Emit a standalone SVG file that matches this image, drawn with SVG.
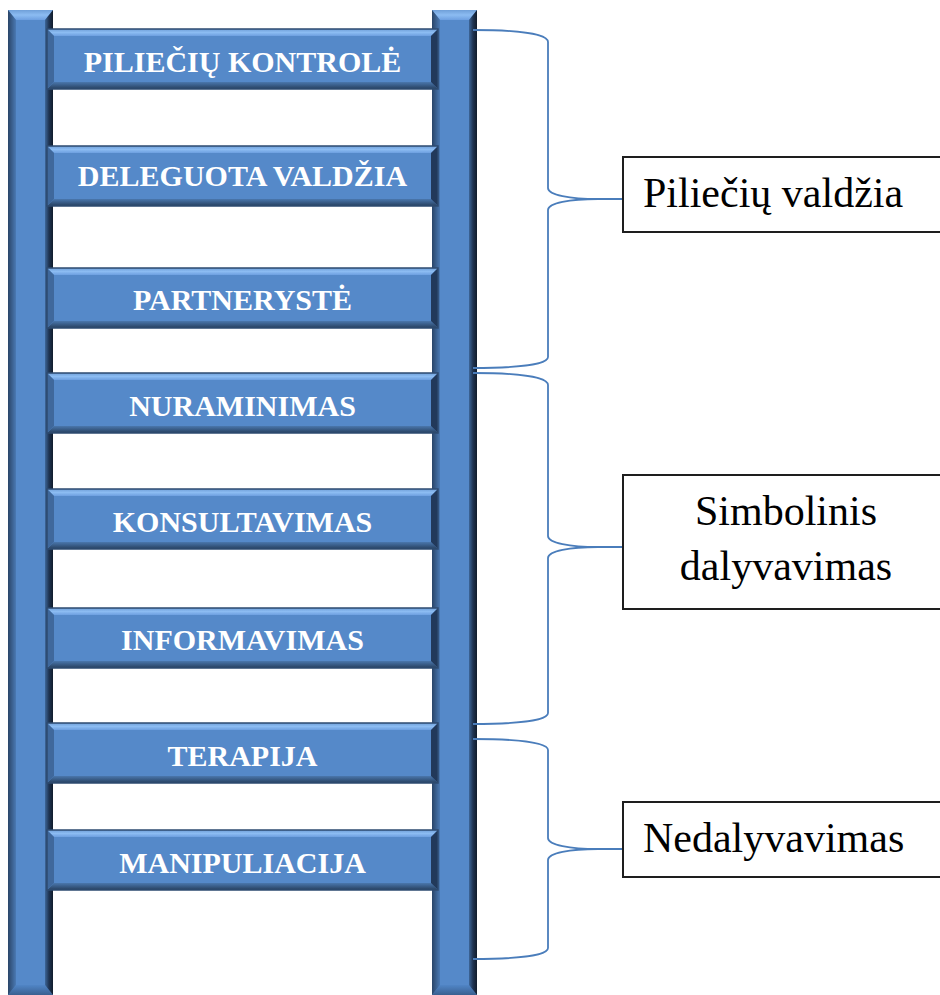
<svg xmlns="http://www.w3.org/2000/svg" xmlns:xlink="http://www.w3.org/1999/xlink" width="940" height="995" viewBox="0 0 940 995">
<style>
.rt{font-family:"Liberation Serif","Times New Roman",serif;font-weight:bold;font-size:30px;fill:#ffffff;text-anchor:middle}
.bt{font-family:"Liberation Serif","Times New Roman",serif;font-size:42px;fill:#000000}
.box{fill:#ffffff;stroke:#1e1e1e;stroke-width:2}
.br{fill:none;stroke:#4a7dbb;stroke-width:1.8}
</style>
<defs>
<linearGradient id="gTop" x1="0" y1="0" x2="0" y2="1">
<stop offset="0" stop-color="#6f9fd8"/><stop offset="0.5" stop-color="#8cbcf2"/><stop offset="1" stop-color="#6d9fe0"/>
</linearGradient>
<linearGradient id="gBot" x1="0" y1="0" x2="0" y2="1">
<stop offset="0" stop-color="#4a77ad"/><stop offset="1" stop-color="#27405f"/>
</linearGradient>
<linearGradient id="gRailL" x1="0" y1="0" x2="1" y2="0">
<stop offset="0" stop-color="#2a4568"/><stop offset="1" stop-color="#4a79b3"/>
</linearGradient>
<linearGradient id="gRailR" x1="0" y1="0" x2="1" y2="0">
<stop offset="0" stop-color="#3d6698"/><stop offset="0.5" stop-color="#1f3452"/><stop offset="1" stop-color="#111c2b"/>
</linearGradient>
<linearGradient id="gRailB" x1="0" y1="0" x2="0" y2="1">
<stop offset="0" stop-color="#5085c6"/><stop offset="1" stop-color="#3a6090"/>
</linearGradient>
<g id="rung">
<rect x="0" y="0" width="391" height="60" fill="#5589c9"/>
<polygon points="0,0 391,0 384,7 7,7" fill="url(#gTop)"/>
<polygon points="0,60 391,60 384,53 7,53" fill="url(#gBot)"/>
<polygon points="0,0 7,7 7,53 0,60" fill="#3f689c"/>
<polygon points="391,0 384,7 384,53 391,60" fill="#22395a"/>
<rect x="0" y="0" width="391" height="60" fill="none" stroke="#2e4b70" stroke-width="1.5"/>
</g>
<g id="rail">
<rect x="0" y="0" width="45" height="985" fill="#5589c9"/>
<polygon points="0,0 45,0 37,10 8,10" fill="url(#gTop)"/>
<polygon points="0,985 45,985 37,975 8,975" fill="url(#gRailB)"/>
<polygon points="0,0 8,10 8,975 0,985" fill="url(#gRailL)"/>
<polygon points="45,0 37,10 37,975 45,985" fill="url(#gRailR)"/>
</g>
</defs>
<rect width="940" height="995" fill="#ffffff"/>
<g id="rails">
<use xlink:href="#rail" x="8" y="10"/>
<use xlink:href="#rail" x="432" y="10"/>
</g>
<g id="rung1"><use xlink:href="#rung" x="47" y="29"/><text class="rt" x="242.5" y="72">PILIEČIŲ KONTROLĖ</text></g>
<g id="rung2"><use xlink:href="#rung" x="47" y="146"/><text class="rt" x="242.5" y="186">DELEGUOTA VALDŽIA</text></g>
<g id="rung3"><use xlink:href="#rung" x="47" y="268"/><text class="rt" x="242.5" y="310">PARTNERYSTĖ</text></g>
<g id="rung4"><use xlink:href="#rung" x="47" y="373"/><text class="rt" x="242.5" y="416">NURAMINIMAS</text></g>
<g id="rung5"><use xlink:href="#rung" x="47" y="489"/><text class="rt" x="242.5" y="532">KONSULTAVIMAS</text></g>
<g id="rung6"><use xlink:href="#rung" x="47" y="608"/><text class="rt" x="242.5" y="650">INFORMAVIMAS</text></g>
<g id="rung7"><use xlink:href="#rung" x="47" y="723"/><text class="rt" x="242.5" y="766">TERAPIJA</text></g>
<g id="rung8"><use xlink:href="#rung" x="47" y="830"/><text class="rt" x="242.5" y="873">MANIPULIACIJA</text></g>
<g id="connectors">
<path class="br" d="M473,30 C520,30 548,34 548,42 L548,188 C548,195 570,199 598,199 L623,199 M598,199 C570,199 548,203 548,210 L548,357 C548,364 520,368 473,368"/>
<path class="br" d="M473,373 C520,373 548,377 548,385 L548,536 C548,543 570,547 598,547 L623,547 M598,547 C570,547 548,551 548,558 L548,713 C548,720 520,724 473,724"/>
<path class="br" d="M473,739 C520,739 548,743 548,750 L548,838 C548,845 570,849 598,849 L623,849 M598,849 C570,849 548,853 548,860 L548,948 C548,955 520,959 473,959"/>
</g>
<g id="box1"><rect class="box" x="623" y="157" width="330" height="75"/><text class="bt" x="643" y="207">Piliečių valdžia</text></g>
<g id="box2"><rect class="box" x="623" y="475" width="330" height="134"/><text class="bt" x="786" y="525" text-anchor="middle">Simbolinis</text><text class="bt" x="786" y="580" text-anchor="middle">dalyvavimas</text></g>
<g id="box3"><rect class="box" x="623" y="802" width="330" height="75"/><text class="bt" x="643" y="852">Nedalyvavimas</text></g>
</svg>
